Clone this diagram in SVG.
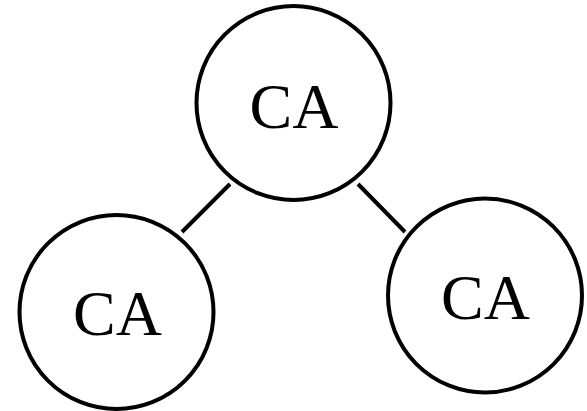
<svg xmlns="http://www.w3.org/2000/svg" width="587" height="411" viewBox="0 0 587 411">
<style>
.node circle{fill:#fff;stroke:#000;stroke-width:4}
.node text{font-family:"Liberation Serif","Times New Roman",serif;font-size:64px;text-anchor:middle;fill:#000}
.edges line{stroke:#000;stroke-width:4}
</style>
<rect width="587" height="411" fill="#fff"/>
<g class="edges">
<line x1="230" y1="184" x2="182" y2="232"/>
<line x1="358" y1="184" x2="405" y2="232"/>
</g>
<g id="top" class="node"><circle cx="293.5" cy="103" r="97"/><text x="294" y="128">CA</text></g>
<g id="left" class="node"><circle cx="116.5" cy="312" r="97"/><text x="117.5" y="335">CA</text></g>
<g id="right" class="node"><circle cx="485" cy="295.5" r="97"/><text x="485.5" y="319">CA</text></g>
</svg>
